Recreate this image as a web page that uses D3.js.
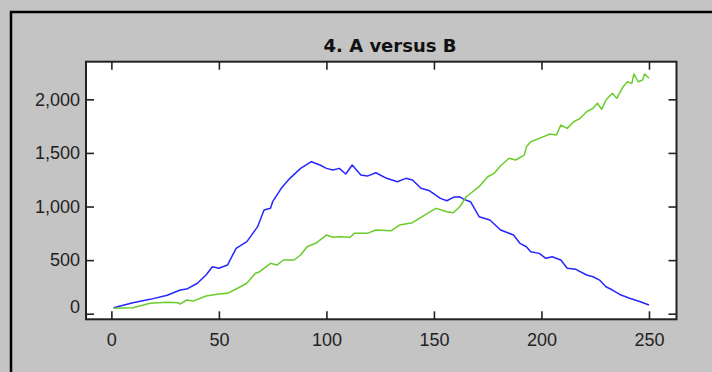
<!DOCTYPE html>
<html>
<head>
<meta charset="utf-8">
<script src="https://cdn.jsdelivr.net/npm/d3@7"></script>
<style>
  html, body { margin: 0; padding: 0; background: #c4c4c4; }
  svg { display: block; }
</style>
</head>
<body>
<figure id="chart" style="margin:0"></figure>
<script>
// chart title
const title = "4. A versus B";

// series A (blue): sample index and value
const aX = [1, 10, 18, 26, 32, 35, 40, 44, 47, 50, 54, 58, 63, 68, 71, 74, 75, 79, 83, 88,
  93, 97, 100, 103, 106, 109, 112, 116, 119, 123, 128, 133, 137, 140, 144, 148, 153, 156, 159, 162,
  164, 167, 171, 176, 181, 187, 190, 193, 195, 199, 202, 205, 209, 212, 216, 221, 224, 227, 230, 233,
  237, 241, 246, 250];
const aY = [56, 103, 134, 172, 221, 230, 284, 361, 438, 424, 454, 610, 672, 812, 967, 983, 1045, 1170, 1263, 1356,
  1418, 1387, 1356, 1340, 1356, 1303, 1387, 1294, 1284, 1315, 1263, 1231, 1263, 1247, 1170, 1147, 1076, 1054, 1086, 1091,
  1067, 1045, 905, 874, 781, 734, 657, 625, 578, 563, 517, 532, 501, 424, 414, 361, 345, 314, 252, 221,
  174, 144, 112, 81];

// series B (green): sample index and value
const bX = [1, 10, 18, 26, 31, 32, 35, 38, 44, 50, 54, 60, 63, 67, 69, 74, 77, 80, 85, 88,
  91, 95, 100, 103, 106, 111, 113, 119, 123, 130, 134, 140, 147, 151, 156, 159, 162, 165, 168, 171,
  175, 178, 181, 185, 188, 192, 193, 195, 199, 204, 207, 209, 212, 215, 218, 221, 224, 226, 228, 230,
  233, 235, 238, 240, 242, 243, 245, 247, 248, 250];
const bY = [50, 56, 97, 106, 103, 90, 128, 118, 165, 184, 190, 252, 284, 377, 392, 470, 454, 501, 501, 548,
  625, 657, 734, 713, 718, 713, 750, 750, 781, 774, 827, 849, 937, 983, 952, 942, 998, 1091, 1138, 1185,
  1278, 1310, 1380, 1450, 1434, 1480, 1558, 1604, 1636, 1676, 1667, 1760, 1729, 1791, 1823, 1884, 1916, 1963, 1907, 1993,
  2056, 2009, 2118, 2164, 2149, 2236, 2164, 2180, 2236, 2196];

// tick values
const xTicks = [0, 50, 100, 150, 200, 250];
const yTicks = [0, 500, 1000, 1500, 2000];

const W = 712, H = 372;
const plot = {left: 86, right: 676.5, top: 61.7, bottom: 319.3};

const svg = d3.select("#chart")
  .append("svg")
  .attr("width", W)
  .attr("height", H);

// grey panel with black frame on top and left
svg.append("rect")
  .attr("width", W).attr("height", H)
  .attr("fill", "#c4c4c4");
svg.append("path")
  .attr("d", `M11,${H} L11,12 L${W},12`)
  .attr("fill", "none")
  .attr("stroke", "#000")
  .attr("stroke-width", 2.5);

const x = d3.scaleLinear()
  .domain([-11.8, 262.8])
  .range([plot.left, plot.right]);
const y = d3.scaleLinear()
  .domain([-52, 2351])
  .range([plot.bottom, plot.top]);

// white plot area
svg.append("rect")
  .attr("x", plot.left).attr("y", plot.top)
  .attr("width", plot.right - plot.left)
  .attr("height", plot.bottom - plot.top)
  .attr("fill", "#fff");

// lines
const line = d3.line()
  .x(d => x(d[0]))
  .y(d => y(d[1]));

svg.append("path")
  .datum(d3.zip(aX, aY))
  .attr("d", line)
  .attr("fill", "none")
  .attr("stroke", "#2626ff")
  .attr("stroke-width", 1.5)
  .attr("stroke-linejoin", "round");

svg.append("path")
  .datum(d3.zip(bX, bY))
  .attr("d", line)
  .attr("fill", "none")
  .attr("stroke", "#6acc2a")
  .attr("stroke-width", 1.5)
  .attr("stroke-linejoin", "round");

// axes: inward ticks on all four sides
const tickLen = 8;
const fmt = d3.format(",");
const axisColor = "#222";

const bottomAxis = svg.append("g")
  .attr("transform", `translate(0,${plot.bottom})`)
  .call(d3.axisBottom(x).tickValues(xTicks).tickSizeInner(-tickLen).tickSizeOuter(0).tickPadding(14).tickFormat(fmt));
const topAxis = svg.append("g")
  .attr("transform", `translate(0,${plot.top})`)
  .call(d3.axisTop(x).tickValues(xTicks).tickSizeInner(-tickLen).tickSizeOuter(0).tickFormat(""));
const leftAxis = svg.append("g")
  .attr("transform", `translate(${plot.left},0)`)
  .call(d3.axisLeft(y).tickValues(yTicks).tickSizeInner(-tickLen).tickSizeOuter(0).tickPadding(6).tickFormat(fmt));
const rightAxis = svg.append("g")
  .attr("transform", `translate(${plot.right},0)`)
  .call(d3.axisRight(y).tickValues(yTicks).tickSizeInner(-tickLen).tickSizeOuter(0).tickFormat(""));

[bottomAxis, topAxis, leftAxis, rightAxis].forEach(g => {
  g.select(".domain").remove();
  g.selectAll(".tick line").attr("stroke", axisColor).attr("stroke-width", 1.6);
  g.selectAll("text")
    .attr("fill", "#222")
    .style("font-family", "'Liberation Sans', Arial, sans-serif")
    .style("font-size", "18px");
});

// the zero label on the y axis sits a little higher
leftAxis.selectAll(".tick text").filter(d => d === 0).attr("dy", "-0.05em");

// box around the plot area
svg.append("rect")
  .attr("x", plot.left).attr("y", plot.top)
  .attr("width", plot.right - plot.left)
  .attr("height", plot.bottom - plot.top)
  .attr("fill", "none")
  .attr("stroke", axisColor)
  .attr("stroke-width", 2);

// title
svg.append("text")
  .attr("x", 390)
  .attr("y", 52)
  .attr("text-anchor", "middle")
  .attr("fill", "#111")
  .style("font-family", "'DejaVu Sans', Verdana, sans-serif")
  .style("font-weight", "bold")
  .style("font-size", "18px")
  .text(title);
</script>
</body>
</html>
